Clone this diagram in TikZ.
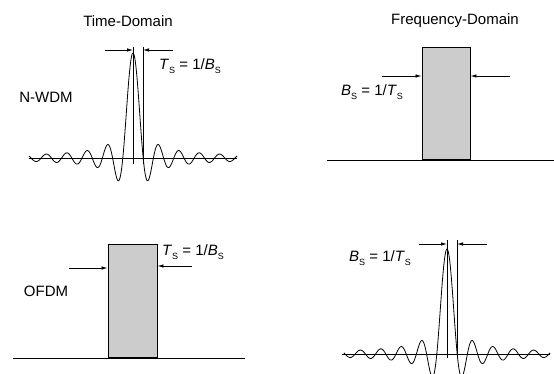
\documentclass[tikz,border=0pt]{standalone}
\usepackage{fontspec}
\setmainfont{Liberation Sans}
\usetikzlibrary{arrows.meta}
\definecolor{boxgray}{HTML}{CCCCCC}
\newcommand{\subS}{\raisebox{-0.45ex}{\fontsize{9}{9}\selectfont S}}
\tikzset{
  lbl/.style={font=\fontsize{15}{15}\selectfont, inner sep=0pt},
  thinline/.style={line width=0.8pt},
  dimarrow/.style={line width=0.8pt, -{Latex[length=6pt,width=3.5pt]}},
  boxshape/.style={draw, fill=boxgray, line width=0.9pt},
}
\begin{document}
\begin{tikzpicture}[x=1pt,y=-1pt]
\useasboundingbox (0,0) rectangle (554,374);
\clip (0,0) rectangle (554,374);
% titles
\node[lbl] (t1) at (128,21) {Time-Domain};
\node[lbl] (t2) at (455,21) {Frequency-Domain};
\node[lbl] (l1) at (46,97) {N-WDM};
\node[lbl] (l2) at (46,291) {OFDM};

% ---- top-left: sinc in time ----
\draw[thinline] (29,158) -- (237,158);
\draw[thinline] plot[domain=-104.1:104.1, samples=400, smooth] (\x+133, {158-105*sin(\x/10.2*180)/(\x/10.2*pi)});
\coordinate (a1) at (133,47); \coordinate (a1b) at (133,164);
\coordinate (a2) at (143,47); \coordinate (a2b) at (143,164);
\draw[thinline] (a1) -- (a1b);
\draw[thinline] (a2) -- (a2b);
\coordinate (a1s) at (105,50); \coordinate (a1e) at (133,50);
\coordinate (a2s) at (173,50); \coordinate (a2e) at (143,50);
\draw[dimarrow] (a1s) -- (a1e);
\draw[dimarrow] (a2s) -- (a2e);
\node[lbl] (ts1) at (190,66) {\textit{T}\subS\ = 1/\textit{B}\subS};

% ---- top-right: rect in frequency ----
\draw[thinline] (327,160) -- (554,160);
\node[boxshape, minimum width=48pt, minimum height=112pt, inner sep=0pt] (r1) at (446,103) {};
\coordinate (b1s) at (382,76); \coordinate (b2s) at (510,76);
\draw[dimarrow] (b1s) -- (b1s -| r1.west);
\draw[dimarrow] (b2s) -- (b2s -| r1.east);
\node[lbl] (bs1) at (372,92) {\textit{B}\subS\ = 1/\textit{T}\subS};

% ---- bottom-left: rect in time ----
\draw[thinline] (13,358) -- (245,358);
\node[boxshape, minimum width=49pt, minimum height=113pt, inner sep=0pt] (r2) at (132.5,300.5) {};
\coordinate (c1s) at (69,268); \coordinate (c2s) at (192,266);
\draw[dimarrow] (c1s) -- (c1s -| r2.west);
\draw[dimarrow] (c2s) -- (c2s -| r2.east);
\node[lbl] (ts2) at (193,252) {\textit{T}\subS\ = 1/\textit{B}\subS};

% ---- bottom-right: sinc in frequency ----
\draw[thinline] (342,354) -- (550,354);
\draw[thinline] plot[domain=-103.1:103.1, samples=400, smooth] (\x+447, {354-105*sin(\x/10.2*180)/(\x/10.2*pi)});
\coordinate (d1) at (447,240); \coordinate (d1b) at (447,358);
\coordinate (d2) at (457,240); \coordinate (d2b) at (457,358);
\draw[thinline] (d1) -- (d1b);
\draw[thinline] (d2) -- (d2b);
\coordinate (d1s) at (419,244); \coordinate (d1e) at (447,244);
\coordinate (d2s) at (487,244); \coordinate (d2e) at (457,244);
\draw[dimarrow] (d1s) -- (d1e);
\draw[dimarrow] (d2s) -- (d2e);
\node[lbl] (bs2) at (380,258) {\textit{B}\subS\ = 1/\textit{T}\subS};
\end{tikzpicture}
\end{document}
